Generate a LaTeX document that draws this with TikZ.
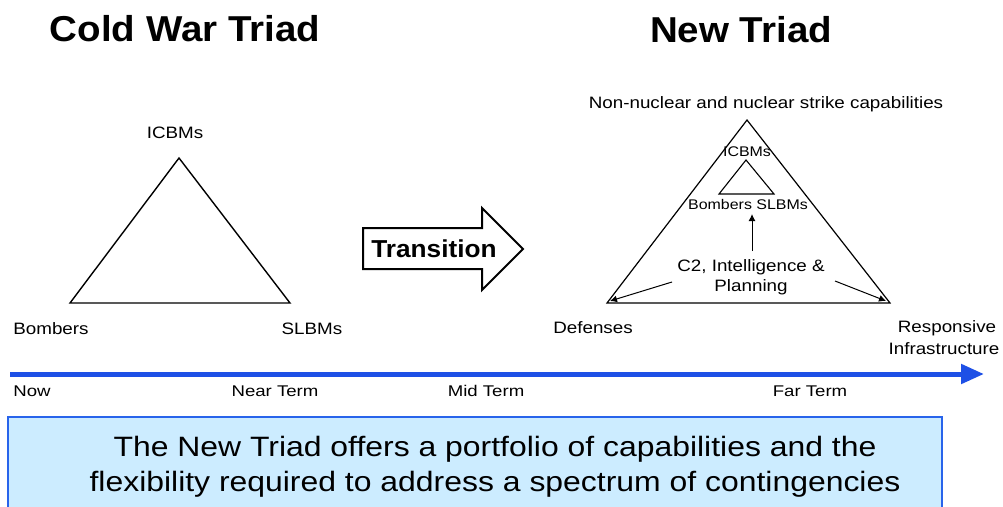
\documentclass[tikz,border=0pt]{standalone}
\usepackage{fontspec}
\setmainfont{Liberation Sans}
\newfontfamily\wfont[FakeStretch=1.14]{Liberation Sans}
\newfontfamily\tfont[FakeStretch=1.2]{Liberation Sans}
\newfontfamily\bfont[FakeStretch=1.07]{Liberation Sans}
\usetikzlibrary{arrows.meta}
\definecolor{tlblue}{RGB}{30,80,230}
\definecolor{boxfill}{RGB}{204,236,255}
\definecolor{boxedge}{RGB}{40,100,235}
\begin{document}
\begin{tikzpicture}[x=1pt,y=-1pt,
  title/.style={font=\bfont\bfseries\fontsize{36}{40}\selectfont, inner sep=0pt},
  lbl/.style={font=\wfont\fontsize{16.5}{20}\selectfont, inner sep=0pt},
  small/.style={font=\wfont\fontsize{14}{17}\selectfont, inner sep=0pt},
  tlbl/.style={font=\tfont\fontsize{15.5}{19}\selectfont, inner sep=0pt},
  tri/.style={draw=black, line width=1.4pt, line join=miter},
  ptr/.style={draw=black, line width=1pt, -{Latex[length=7pt,width=7pt]}}]
\useasboundingbox (0,0) rectangle (1003,506);
\fill[white] (0,0) rectangle (1003,506);

% titles
\node[title] (t1) at (185,29) {Cold War Triad};
\node[title] (t2) at (741,30) {New Triad};

% Cold war triad
\coordinate (a1) at (179,158);
\coordinate (b1) at (70,303);
\coordinate (c1) at (290,303);
\draw[tri] (a1) -- (b1) -- (c1) -- cycle;
\node[lbl] (icbm1) at (175,133) {ICBMs};
\node[lbl] (bomb1) at (51,329) {Bombers};
\node[lbl] (slbm1) at (312,329) {SLBMs};

% Transition arrow
\node[font=\bfont\bfseries\fontsize{24.5}{28}\selectfont, inner sep=0pt] (trans) at (434,249) {Transition};
\draw[line width=2pt, line join=miter] (363,228) -- (482,228) -- (482,208) -- (523,249) -- (482,290) -- (482,269) -- (363,269) -- cycle;

% New triad
\coordinate (a2) at (747,120);
\coordinate (b2) at (607,303);
\coordinate (c2) at (890,303);
\draw[tri, line width=1.2pt] (a2) -- (b2) -- (c2) -- cycle;
\coordinate (ia) at (746,160);
\coordinate (ib) at (719,194);
\coordinate (ic) at (774,194);
\draw[tri, line width=1.1pt] (ia) -- (ib) -- (ic) -- cycle;
\node[lbl] (strike) at (766,104) {Non-nuclear and nuclear strike capabilities};
\node[small] (icbm2) at (747,152) {ICBMs};
\node[small] (bs2) at (748,204) {Bombers SLBMs};
\node[lbl, align=center] (c2i) at (751,277) {C2, Intelligence \&\\Planning};
\coordinate (upstart) at (752,251);
\coordinate (upend) at (752,214);
\draw[ptr] (upstart) -- (upend);
\coordinate (lstart) at (672,282);
\coordinate (lend) at (610,301);
\draw[ptr] (lstart) -- (lend);
\coordinate (rstart) at (835,281);
\coordinate (rend) at (886,301);
\draw[ptr] (rstart) -- (rend);
\node[lbl] (def) at (593,328) {Defenses};
\node[lbl] (resp) at (947,328) {Responsive};
\node[lbl] (infra) at (944,349) {Infrastructure};

% timeline
\coordinate (tl0) at (10,374);
\coordinate (tl1) at (984,374);
\draw[tlblue, line width=5pt, -{Triangle[length=23pt,width=19pt]}] (tl0) -- (tl1);
\node[tlbl] (now) at (32,391) {Now};
\node[tlbl] (near) at (275,391) {Near Term};
\node[tlbl] (mid) at (486,391) {Mid Term};
\node[tlbl] (far) at (810,391) {Far Term};

% bottom box
\draw[fill=boxfill, draw=boxedge, line width=2.5pt] (8,417) rectangle (942,515);
\node[font=\wfont\fontsize{28}{35.5}\selectfont, align=center, inner sep=0pt] (msg) at (495,467)
  {The New Triad offers a portfolio of capabilities and the\\flexibility required to address a spectrum of contingencies};
\end{tikzpicture}
\end{document}
